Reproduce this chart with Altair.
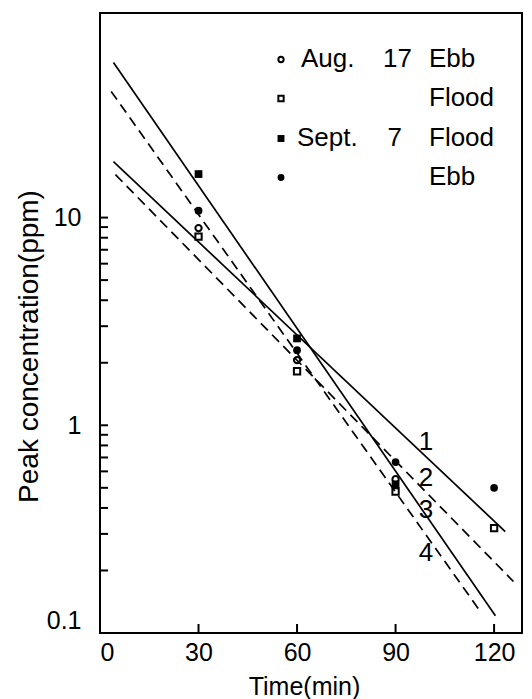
import altair as alt
import pandas as pd

# ---- data ----
times = [30, 60, 90, 120]
aug_ebb = [8.9, 2.06, 0.55, None]        # open circle
aug_flood = [8.1, 1.82, 0.48, 0.32]      # open square
sept_flood = [16.2, 2.62, 0.52, None]    # filled square
sept_ebb = [10.8, 2.30, 0.665, 0.50]     # filled circle

line_ids = ["1", "2", "3", "4"]
line_dashed = [False, True, False, True]
line_x_start = [4.1, 4.7, 4.1, 3.4]
line_y_start = [18.6, 16.1, 55.8, 40.5]
line_x_end = [123.4, 125.9, 120.4, 115.5]
line_y_end = [0.308, 0.177, 0.121, 0.129]

label_x = [99.3, 99.3, 99.3, 99.3]
label_y = [0.833, 0.558, 0.392, 0.243]

y_label_values = [0.1, 1, 10]
y_tick_values = [0.2, 0.3, 0.4, 0.5, 0.6, 0.7, 0.8, 0.9, 1,
                 2, 3, 4, 5, 6, 7, 8, 9, 10]
x_label_values = [0, 30, 60, 90, 120]
x_tick_values = [30, 60, 90, 120]

legend_dates = ["Aug.", "", "Sept.", ""]
legend_days = ["17", "", "7", ""]
legend_tides = ["Ebb", "Flood", "Flood", "Ebb"]

# ---- tables ----
series = {
    "aug_ebb": aug_ebb,
    "aug_flood": aug_flood,
    "sept_flood": sept_flood,
    "sept_ebb": sept_ebb,
}
rows = []
for name, vals in series.items():
    for t, v in zip(times, vals):
        if v is not None:
            rows.append({"series": name, "time": t, "conc": v})
pts = pd.DataFrame(rows)

lrows = []
for i, lid in enumerate(line_ids):
    lrows.append({"id": lid, "dashed": line_dashed[i], "time": line_x_start[i], "conc": line_y_start[i]})
    lrows.append({"id": lid, "dashed": line_dashed[i], "time": line_x_end[i], "conc": line_y_end[i]})
lines = pd.DataFrame(lrows)

labels = pd.DataFrame({"id": line_ids, "time": label_x, "conc": label_y})
yticks = pd.DataFrame({"conc": y_tick_values})
xticks = pd.DataFrame({"time": x_tick_values})

W, H = 422, 620
FONT = "Liberation Sans"

xscale = alt.Scale(domain=[0, 128.5], nice=False, zero=False)
yscale = alt.Scale(type="log", domain=[0.1, 96.6], nice=False)

xaxis = alt.Axis(
    values=x_label_values, format="d", ticks=False, domain=False, grid=False,
    labelFlush=True, labelPadding=7, labelFont=FONT, labelFontSize=25,
    labelColor="black", title="Time(min)", titleFont=FONT, titleFontSize=25,
    titleFontWeight="normal", titleColor="black", titleX=204, titleY=61,
    titleAlign="center", titleBaseline="alphabetic",
)
yaxis = alt.Axis(
    values=y_label_values, format="~g", ticks=False, domain=False, grid=False,
    labelFlush=True, labelPadding=19, labelFont=FONT, labelFontSize=25,
    labelColor="black", title="Peak concentration(ppm)", titleFont=FONT,
    titleFontSize=28, titleFontWeight="normal", titleColor="black",
    titleAngle=270, titleX=-63, titleY=333, titleAlign="center",
    titleBaseline="alphabetic",
)

X = alt.X("time:Q", scale=xscale, axis=xaxis)
Y = alt.Y("conc:Q", scale=yscale, axis=yaxis)

layers = []

# inward ticks
layers.append(
    alt.Chart(yticks).mark_rule(color="black", strokeWidth=2).encode(
        y=Y, x=alt.value(0), x2=alt.value(8)
    )
)
layers.append(
    alt.Chart(xticks).mark_rule(color="black", strokeWidth=2).encode(
        x=X, y=alt.value(H), y2=alt.value(H - 9)
    )
)

# fitted lines
layers.append(
    alt.Chart(lines).transform_filter("!datum.dashed").mark_line(
        color="black", strokeWidth=1.7
    ).encode(x=X, y=Y, detail="id:N")
)
layers.append(
    alt.Chart(lines).transform_filter("datum.dashed").mark_line(
        color="black", strokeWidth=1.7, strokeDash=[10, 6]
    ).encode(x=X, y=Y, detail="id:N")
)

# data points
styles = {
    "aug_ebb": dict(shape="circle", filled=False, size=40, strokeWidth=2),
    "aug_flood": dict(shape="square", filled=False, size=40, strokeWidth=2),
    "sept_flood": dict(shape="square", filled=True, size=60),
    "sept_ebb": dict(shape="circle", filled=True, size=60),
}
for name, st in styles.items():
    layers.append(
        alt.Chart(pts).transform_filter(f"datum.series == '{name}'").mark_point(
            color="black", opacity=1, **st
        ).encode(x=X, y=Y)
    )

# line labels
layers.append(
    alt.Chart(labels).mark_text(
        font=FONT, fontSize=26, color="black", align="center", baseline="middle"
    ).encode(x=X, y=Y, text="id:N")
)

# legend (drawn inside the plot)
leg_base = [53.5, 92.5, 132.5, 171.5]
leg_marker_x = 181
leg = pd.DataFrame({
    "series": list(styles.keys()),
    "date": legend_dates,
    "day": legend_days,
    "tide": legend_tides,
    "row": [0, 1, 2, 3],
})
for i, (name, st) in enumerate(styles.items()):
    mst = dict(st)
    mst["size"] = max(26, st["size"] - 12)
    layers.append(
        alt.Chart(leg).transform_filter(f"datum.row == {i}").mark_point(
            color="black", opacity=1, **mst
        ).encode(x=alt.value(leg_marker_x), y=alt.value(leg_base[i] - 7))
    )
    layers.append(
        alt.Chart(leg).transform_filter(f"datum.row == {i}").mark_text(
            font=FONT, fontSize=26, color="black", align="left", baseline="alphabetic"
        ).encode(x=alt.value(201 if i == 0 else 197), y=alt.value(leg_base[i]), text="date:N")
    )
    layers.append(
        alt.Chart(leg).transform_filter(f"datum.row == {i}").mark_text(
            font=FONT, fontSize=26, color="black", align="right", baseline="alphabetic"
        ).encode(x=alt.value(312 if i == 0 else 302), y=alt.value(leg_base[i]), text="day:N")
    )
    layers.append(
        alt.Chart(leg).transform_filter(f"datum.row == {i}").mark_text(
            font=FONT, fontSize=26, color="black", align="left", baseline="alphabetic"
        ).encode(x=alt.value(329), y=alt.value(leg_base[i]), text="tide:N")
    )

chart = alt.layer(*layers).properties(
    width=W, height=H,
    autosize=alt.AutoSizeParams(type="none"),
    padding={"left": 100, "top": 13, "right": 10, "bottom": 66},
    background="white",
).configure_view(stroke="black", strokeWidth=2)

chart.save("out.html", embed_options={"renderer": "svg", "actions": False})
